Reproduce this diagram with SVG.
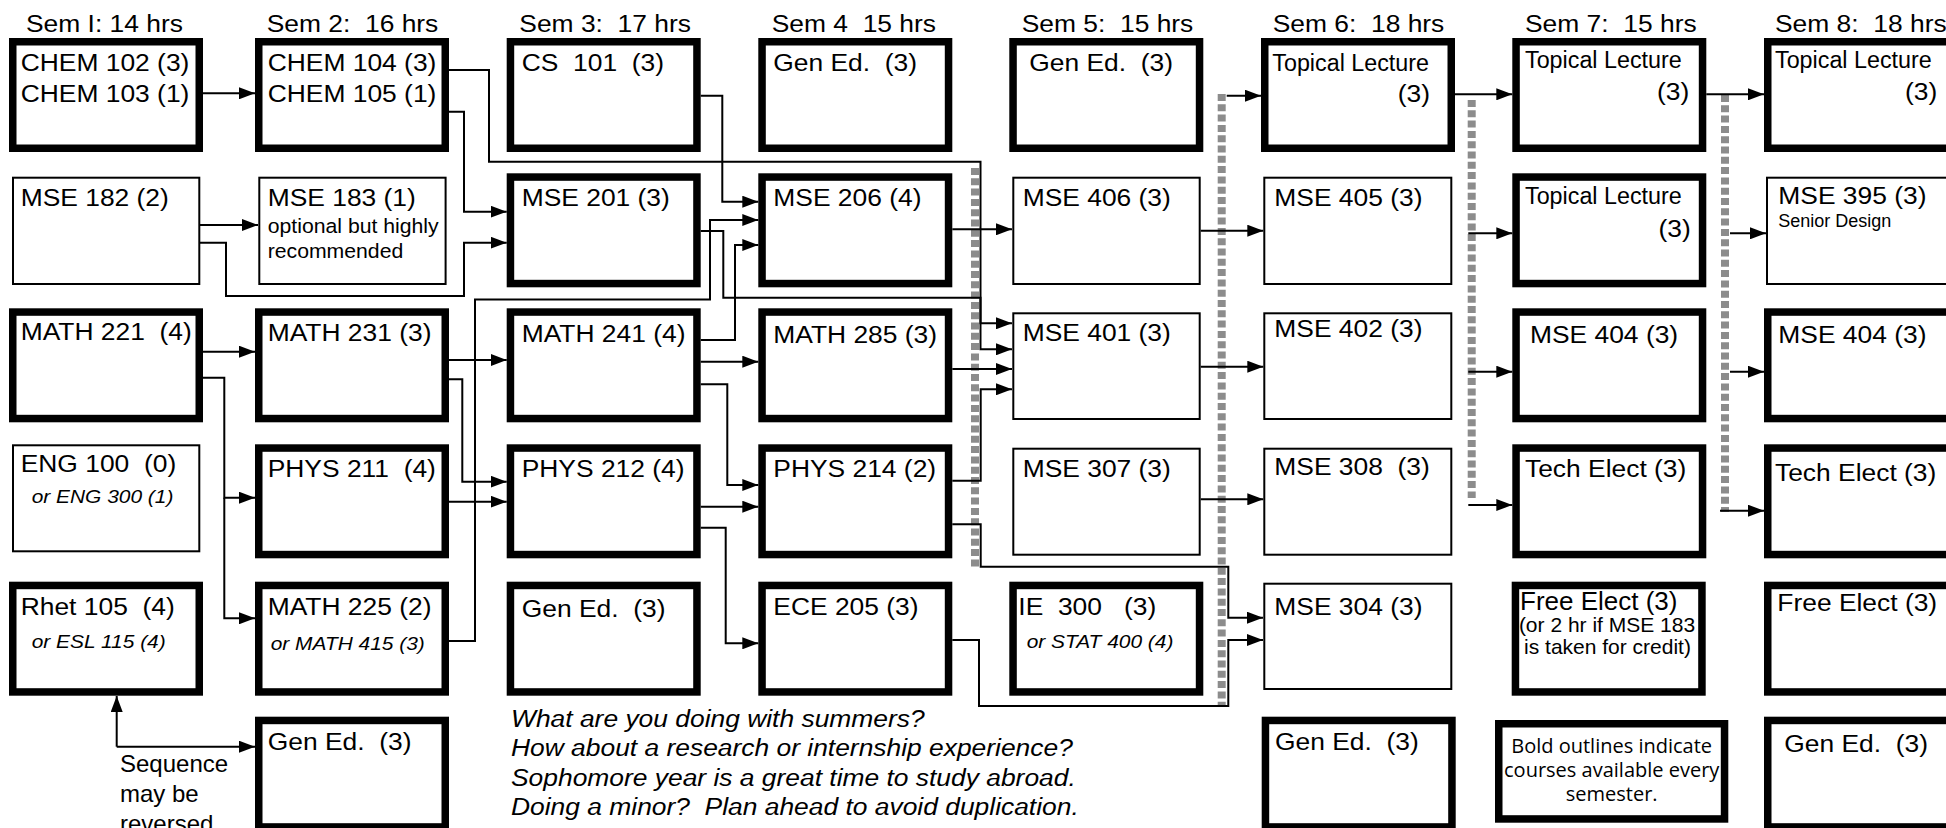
<svg xmlns="http://www.w3.org/2000/svg" width="1946" height="828" viewBox="0 0 1946 828">
<defs>
<marker id="ah" markerUnits="userSpaceOnUse" markerWidth="17" markerHeight="12" refX="16" refY="6" orient="auto"><path d="M0,0 L16,6 L0,12 z" fill="#000"/></marker>
<style>
.tb{fill:#fff;stroke:#000;stroke-width:7.5}
.tn{fill:#fff;stroke:#000;stroke-width:2}
.t{font-family:"Liberation Sans",Arial,Helvetica,sans-serif;font-size:24px;fill:#000;white-space:pre}
.sm{font-size:19.3px}
.it{font-style:italic;font-size:19px}
.tl{font-size:23.3px}
.ln{fill:none;stroke:#000;stroke-width:2;marker-end:url(#ah)}
.ds{fill:none;stroke:#8c8c8c;stroke-width:8;stroke-dasharray:7 3.3}
.os{font-family:"Open Sans","Noto Sans",sans-serif;font-size:20px;fill:#000;text-anchor:middle}
</style>
</defs>
<rect width="1946" height="828" fill="#fff"/>

<g id="headers">
<text class="t" transform="translate(26,31.7) scale(1.1,1)">Sem I: 14 hrs</text>
<text class="t" transform="translate(266.7,31.7) scale(1.1,1)">Sem 2:  16 hrs</text>
<text class="t" transform="translate(519.3,31.7) scale(1.1,1)">Sem 3:  17 hrs</text>
<text class="t" transform="translate(771.7,31.7) scale(1.1,1)">Sem 4  15 hrs</text>
<text class="t" transform="translate(1021.7,31.7) scale(1.1,1)">Sem 5:  15 hrs</text>
<text class="t" transform="translate(1272.7,31.7) scale(1.1,1)">Sem 6:  18 hrs</text>
<text class="t" transform="translate(1525,31.7) scale(1.1,1)">Sem 7:  15 hrs</text>
<text class="t" transform="translate(1775,31.7) scale(1.1,1)">Sem 8:  18 hrs</text>
</g>

<g id="dividers">
<line class="ds" x1="975" y1="168" x2="975" y2="567"/>
<line class="ds" x1="1221.7" y1="94" x2="1221.7" y2="706"/>
<line class="ds" x1="1471.7" y1="100" x2="1471.7" y2="498"/>
<line class="ds" x1="1725" y1="95" x2="1725" y2="512"/>
</g>

<g id="connectors">
<path class="ln" d="M203,93.3 H255"/>
<path class="ln" d="M449,70 H489 V161.7 H980.5 V323.3 H1012"/>
<path class="ln" d="M449,111.7 H464 V211.7 H506.7"/>
<path class="ln" d="M200,225 H258"/>
<path class="ln" d="M200,242.7 H226 V296 H464 V242.7 H506.7"/>
<path class="ln" d="M700.7,95.7 H722.3 V201.7 H758.3"/>
<path class="ln" d="M700.7,231 H723.3 V297.7 H980.5 V349.3 H1012"/>
<path class="ln" d="M449,641 H475 V299.5 H710 V220 H758.3"/>
<path class="ln" d="M700.7,340 H735 V245 H758.3"/>
<path class="ln" d="M952.3,229.3 H1012"/>
<path class="ln" d="M952.3,369 H1012"/>
<path class="ln" d="M952.3,480.7 H980.7 V389.3 H1012"/>
<path class="ln" d="M952.3,524.3 H980.7 V566.7 H1228.3 V617.7 H1263"/>
<path class="ln" d="M952.3,640 H979 V706 H1228.3 V640 H1263"/>
<path class="ln" d="M1200.7,230.7 H1263.3"/>
<path class="ln" d="M1200.7,366.7 H1263.3"/>
<path class="ln" d="M1200.7,499.3 H1263.3"/>
<path class="ln" d="M1226.7,95.7 H1261"/>
<path class="ln" d="M1455,94.3 H1512.3"/>
<path class="ln" d="M1468.3,233.3 H1512.3"/>
<path class="ln" d="M1468.3,371.7 H1512.3"/>
<path class="ln" d="M1468.3,505 H1512.3"/>
<path class="ln" d="M1706.3,94.3 H1764"/>
<path class="ln" d="M1730,233.3 H1766"/>
<path class="ln" d="M1730,371.7 H1764"/>
<path class="ln" d="M1720,510.7 H1764"/>
<path class="ln" d="M203,351.7 H255"/>
<path class="ln" d="M203,377.7 H224.3 V497.7 H255"/>
<path class="ln" d="M224.3,497.7 V618.3 H255"/>
<path class="ln" d="M449,360 H506.7"/>
<path class="ln" d="M449,379.3 H462.3 V481.7 H506.7"/>
<path class="ln" d="M449,501.7 H506.7"/>
<path class="ln" d="M700.7,361.7 H758.3"/>
<path class="ln" d="M700.7,384.3 H727.3 V485 H758.3"/>
<path class="ln" d="M700.7,506.7 H758.3"/>
<path class="ln" d="M700.7,527.7 H725.7 V643.3 H758.3"/>
<path class="ln" d="M116.7,746.7 V696"/>
<path class="ln" d="M116.7,746.7 H255"/>
</g>

<g id="n-chem102"><rect class="tb" x="12.75" y="41.75" width="186.5" height="106.5"/>
<text class="t" transform="translate(20.7,70.7) scale(1.1,1)"><tspan x="0" y="0">CHEM 102 (3)</tspan><tspan x="0" y="31">CHEM 103 (1)</tspan></text></g>
<g id="n-mse182"><rect class="tn" x="13" y="177.7" width="186.3" height="106.3"/>
<text class="t" transform="translate(20.7,205.7) scale(1.1,1)">MSE 182 (2)</text></g>
<g id="n-math221"><rect class="tb" x="12.75" y="312.05" width="186.5" height="106.5"/>
<text class="t" transform="translate(20.7,340) scale(1.1,1)">MATH 221  (4)</text></g>
<g id="n-eng100"><rect class="tn" x="13" y="445.3" width="186.3" height="106"/>
<text class="t" transform="translate(20.7,471.7) scale(1.1,1)">ENG 100  (0)</text>
<text class="t it" transform="translate(31.7,503.3) scale(1.1,1)">or ENG 300 (1)</text></g>
<g id="n-rhet105"><rect class="tb" x="12.75" y="585.45" width="186.5" height="106.5"/>
<text class="t" transform="translate(20.7,615) scale(1.1,1)">Rhet 105  (4)</text>
<text class="t it" transform="translate(31.7,648.3) scale(1.1,1)">or ESL 115 (4)</text></g>

<g id="n-chem104"><rect class="tb" x="258.75" y="41.75" width="186.5" height="106.5"/>
<text class="t" transform="translate(267.7,70.7) scale(1.1,1)"><tspan x="0" y="0">CHEM 104 (3)</tspan><tspan x="0" y="31">CHEM 105 (1)</tspan></text></g>
<g id="n-mse183"><rect class="tn" x="259.3" y="177.7" width="186.3" height="106.3"/>
<text class="t" transform="translate(267.7,205.7) scale(1.1,1)">MSE 183 (1)</text>
<text class="t sm" transform="translate(267.7,233.3) scale(1.1,1)"><tspan x="0" y="0">optional but highly</tspan><tspan x="0" y="25">recommended</tspan></text></g>
<g id="n-math231"><rect class="tb" x="258.75" y="312.05" width="186.5" height="106.5"/>
<text class="t" transform="translate(267.7,340.7) scale(1.1,1)">MATH 231 (3)</text></g>
<g id="n-phys211"><rect class="tb" x="258.75" y="448.05" width="186.5" height="106.5"/>
<text class="t" transform="translate(267.7,477.3) scale(1.1,1)">PHYS 211  (4)</text></g>
<g id="n-math225"><rect class="tb" x="258.75" y="585.45" width="186.5" height="106.5"/>
<text class="t" transform="translate(267.7,615) scale(1.1,1)">MATH 225 (2)</text>
<text class="t it" transform="translate(270.7,650) scale(1.1,1)">or MATH 415 (3)</text></g>
<g id="n-gened2"><rect class="tb" x="258.75" y="720.45" width="186.5" height="106.5"/>
<text class="t" transform="translate(267.7,750) scale(1.1,1)">Gen Ed.  (3)</text></g>

<g id="n-cs101"><rect class="tb" x="510.45" y="41.75" width="186.5" height="106.5"/>
<text class="t" transform="translate(521.7,70.7) scale(1.1,1)">CS  101  (3)</text></g>
<g id="n-mse201"><rect class="tb" x="510.45" y="177.05" width="186.5" height="106.5"/>
<text class="t" transform="translate(521.7,205.7) scale(1.1,1)">MSE 201 (3)</text></g>
<g id="n-math241"><rect class="tb" x="510.45" y="312.05" width="186.5" height="106.5"/>
<text class="t" transform="translate(521.7,342.3) scale(1.1,1)">MATH 241 (4)</text></g>
<g id="n-phys212"><rect class="tb" x="510.45" y="448.05" width="186.5" height="106.5"/>
<text class="t" transform="translate(521.7,477.3) scale(1.1,1)">PHYS 212 (4)</text></g>
<g id="n-gened3"><rect class="tb" x="510.45" y="585.45" width="186.5" height="106.5"/>
<text class="t" transform="translate(521.7,616.7) scale(1.1,1)">Gen Ed.  (3)</text></g>

<g id="n-gened4"><rect class="tb" x="762.05" y="41.75" width="186.5" height="106.5"/>
<text class="t" transform="translate(773.3,70.7) scale(1.1,1)">Gen Ed.  (3)</text></g>
<g id="n-mse206"><rect class="tb" x="762.05" y="177.05" width="186.5" height="106.5"/>
<text class="t" transform="translate(773.3,205.7) scale(1.1,1)">MSE 206 (4)</text></g>
<g id="n-math285"><rect class="tb" x="762.05" y="312.05" width="186.5" height="106.5"/>
<text class="t" transform="translate(773.3,343.3) scale(1.1,1)">MATH 285 (3)</text></g>
<g id="n-phys214"><rect class="tb" x="762.05" y="448.05" width="186.5" height="106.5"/>
<text class="t" transform="translate(773.3,477.3) scale(1.1,1)">PHYS 214 (2)</text></g>
<g id="n-ece205"><rect class="tb" x="762.05" y="585.45" width="186.5" height="106.5"/>
<text class="t" transform="translate(773.3,615) scale(1.1,1)">ECE 205 (3)</text></g>

<g id="n-gened5"><rect class="tb" x="1013.05" y="41.75" width="186.5" height="106.5"/>
<text class="t" transform="translate(1029.3,70.7) scale(1.1,1)">Gen Ed.  (3)</text></g>
<g id="n-mse406"><rect class="tn" x="1013.3" y="177.7" width="186.4" height="106.3"/>
<text class="t" transform="translate(1022.7,205.7) scale(1.1,1)">MSE 406 (3)</text></g>
<g id="n-mse401"><rect class="tn" x="1013.3" y="313.3" width="186.4" height="105.7"/>
<text class="t" transform="translate(1022.7,340.7) scale(1.1,1)">MSE 401 (3)</text></g>
<g id="n-mse307"><rect class="tn" x="1013.3" y="448.7" width="186.4" height="106"/>
<text class="t" transform="translate(1022.7,477.3) scale(1.1,1)">MSE 307 (3)</text></g>
<g id="n-ie300"><rect class="tb" x="1013.05" y="585.45" width="186.5" height="106.5"/>
<text class="t" transform="translate(1018.3,615) scale(1.1,1)">IE  300   (3)</text>
<text class="t it" transform="translate(1026.7,648.3) scale(1.1,1)">or STAT 400 (4)</text></g>

<g id="n-topical6"><rect class="tb" x="1264.75" y="41.75" width="186.5" height="106.5"/>
<text class="t tl" x="1272.3" y="70.7">Topical Lecture</text>
<text class="t" text-anchor="end" transform="translate(1430,101.7) scale(1.1,1)">(3)</text></g>
<g id="n-mse405"><rect class="tn" x="1264.3" y="177.7" width="187" height="106.3"/>
<text class="t" transform="translate(1274.3,205.7) scale(1.1,1)">MSE 405 (3)</text></g>
<g id="n-mse402"><rect class="tn" x="1264.3" y="313.3" width="187" height="105.7"/>
<text class="t" transform="translate(1274.3,336.7) scale(1.1,1)">MSE 402 (3)</text></g>
<g id="n-mse308"><rect class="tn" x="1264.3" y="448.7" width="187" height="106"/>
<text class="t" transform="translate(1274.3,475) scale(1.1,1)">MSE 308  (3)</text></g>
<g id="n-mse304"><rect class="tn" x="1264.3" y="583.7" width="187" height="105.3"/>
<text class="t" transform="translate(1274.3,615) scale(1.1,1)">MSE 304 (3)</text></g>
<g id="n-gened6"><rect class="tb" x="1265.45" y="720.45" width="186.5" height="106.5"/>
<text class="t" transform="translate(1275,750) scale(1.1,1)">Gen Ed.  (3)</text></g>

<g id="n-topical7a"><rect class="tb" x="1516.05" y="41.75" width="186.5" height="106.5"/>
<text class="t tl" x="1525" y="68.3">Topical Lecture</text>
<text class="t" text-anchor="end" transform="translate(1689.3,100) scale(1.1,1)">(3)</text></g>
<g id="n-topical7b"><rect class="tb" x="1516.05" y="177.05" width="186.5" height="106.5"/>
<text class="t tl" x="1525" y="204">Topical Lecture</text>
<text class="t" text-anchor="end" transform="translate(1690.7,236.7) scale(1.1,1)">(3)</text></g>
<g id="n-mse404a"><rect class="tb" x="1516.05" y="312.05" width="186.5" height="106.5"/>
<text class="t" transform="translate(1530,343.3) scale(1.1,1)">MSE 404 (3)</text></g>
<g id="n-tech7"><rect class="tb" x="1516.05" y="448.05" width="186.5" height="106.5"/>
<text class="t" transform="translate(1525,477.3) scale(1.1,1)">Tech Elect (3)</text></g>
<g id="n-free7"><rect class="tb" x="1515.45" y="585.45" width="186.5" height="106.5"/>
<text class="t" style="font-size:26px" x="1520" y="610">Free Elect (3)</text>
<text class="t" style="font-size:21px" text-anchor="middle" x="1607" y="632">(or 2 hr if MSE 183</text>
<text class="t" style="font-size:21px" text-anchor="middle" x="1607.5" y="654">is taken for credit)</text></g>
<g id="n-legend"><rect class="tb" x="1498.75" y="723.75" width="225.8" height="95.2"/>
<text class="os" x="1611.7" y="753">Bold outlines indicate</text>
<text class="os" x="1611.7" y="777">courses available every</text>
<text class="os" x="1611.7" y="800.5">semester.</text></g>

<g id="n-topical8"><rect class="tb" x="1767.75" y="41.75" width="186.5" height="106.5"/>
<text class="t tl" x="1775" y="68.3">Topical Lecture</text>
<text class="t" text-anchor="end" transform="translate(1937.3,100) scale(1.1,1)">(3)</text></g>
<g id="n-mse395"><rect class="tn" x="1767" y="177.7" width="186" height="106.3"/>
<text class="t" transform="translate(1778.3,204) scale(1.1,1)">MSE 395 (3)</text>
<text class="t" style="font-size:18px" x="1778.3" y="226.7">Senior Design</text></g>
<g id="n-mse404b"><rect class="tb" x="1767.75" y="312.05" width="186.5" height="106.5"/>
<text class="t" transform="translate(1778.3,343.3) scale(1.1,1)">MSE 404 (3)</text></g>
<g id="n-tech8"><rect class="tb" x="1767.75" y="448.05" width="186.5" height="106.5"/>
<text class="t" transform="translate(1775,480.7) scale(1.1,1)">Tech Elect (3)</text></g>
<g id="n-free8"><rect class="tb" x="1767.75" y="585.45" width="186.5" height="106.5"/>
<text class="t" transform="translate(1777.3,610.7) scale(1.1,1)">Free Elect (3)</text></g>
<g id="n-gened8"><rect class="tb" x="1767.75" y="720.45" width="186.5" height="106.5"/>
<text class="t" transform="translate(1784.3,751.7) scale(1.1,1)">Gen Ed.  (3)</text></g>

<g id="notes">
<text class="t it" style="font-size:24px" transform="translate(511,727) scale(1.1,1)"><tspan x="0" y="0">What are you doing with summers?</tspan><tspan x="0" y="29.5">How about a research or internship experience?</tspan><tspan x="0" y="59">Sophomore year is a great time to study abroad.</tspan><tspan x="0" y="88.5">Doing a minor?  Plan ahead to avoid duplication.</tspan></text>
<text class="t" x="120" y="771.7"><tspan x="120" y="771.7">Sequence</tspan><tspan x="120" y="801.7">may be</tspan><tspan x="120" y="831.7">reversed</tspan></text>
</g>
</svg>
